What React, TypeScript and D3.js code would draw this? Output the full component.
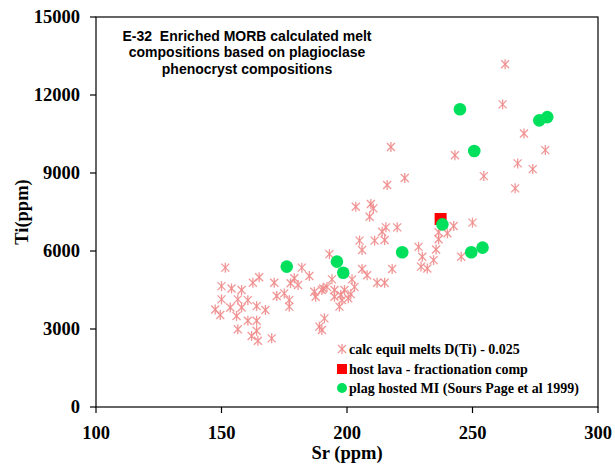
import React from "react";
import * as d3 from "d3";

// Sr (ppm), Ti (ppm) — calc equil melts D(Ti) - 0.025
const meltSr = [263, 262, 270.5, 279, 243, 268, 274, 254.5, 267, 250, 242.5, 240, 236.5, 236.5, 235.5, 234.5, 232, 245.5, 217.5, 216, 223, 203.5, 209.5, 210.5, 209, 220, 215.5, 214, 215, 211, 205, 206, 193, 228.5, 230, 229.5, 218, 206, 208, 212, 215, 194, 202, 192, 203, 195, 199, 197.5, 201.5, 187.5, 197, 191, 189, 190, 151.5, 182, 185, 179, 165, 162.5, 171, 177.5, 180.5, 150, 154, 158, 175, 172, 187, 190.5, 150, 156.5, 160.5, 177, 177, 153.5, 158, 164, 167.5, 147.5, 149.5, 156, 160.5, 164, 156.5, 164, 162, 164.5, 170, 195, 198, 200.5, 190];
const meltTi = [13180, 11640, 10520, 9880, 9680, 9370, 9150, 8880, 8410, 7090, 6960, 6680, 6720, 6450, 6060, 5650, 5330, 5780, 10000, 8540, 8810, 7700, 7810, 7640, 7320, 6910, 6910, 6740, 6420, 6400, 6400, 6040, 5880, 6160, 5780, 5400, 5310, 5310, 5070, 4780, 4780, 4910, 4910, 4620, 4620, 4500, 4500, 4310, 4340, 4240, 3860, 3410, 3090, 2960, 5360, 5360, 5040, 4950, 4990, 4780, 4780, 4760, 4690, 4650, 4560, 4500, 4370, 4270, 4430, 4560, 4140, 4140, 4110, 4110, 3860, 3830, 3830, 3880, 3730, 3750, 3540, 3500, 3320, 3320, 2990, 2930, 2730, 2550, 2640, 4240, 4110, 4180, 4500];

// host lava - fractionation comp
const hostSr = [237.3];
const hostTi = [7230];

// plag hosted MI (Sours Page et al 1999)
const miSr = [176, 196, 198.5, 222, 238, 249.5, 254, 245, 250.7, 276.6, 279.8];
const miTi = [5400, 5590, 5165, 5950, 7025, 5950, 6130, 11450, 9845, 11025, 11150];

const xTicks = [100, 150, 200, 250, 300];
const yTicks = [0, 3000, 6000, 9000, 12000, 15000];

const titleLines = [
  "E-32\u00A0 Enriched MORB calculated melt",
  "compositions based on plagioclase",
  "phenocryst compositions",
];
const legendLabels = [
  "calc equil melts D(Ti) - 0.025",
  "host lava - fractionation comp",
  "plag hosted MI (Sours Page et al 1999)",
];

const W = 615;
const H = 466;
const M = { left: 96, right: 598, top: 17, bottom: 407 };

const STAR = "#F08C8C";
const GREEN = "#00E05C";
const RED = "#FF0000";

function Star({ x, y }: { x: number; y: number }) {
  const r = 5;
  const d = 4;
  return (
    <g stroke={STAR} strokeWidth={1.3} strokeOpacity={0.9}>
      <line x1={x} y1={y - r} x2={x} y2={y + r} />
      <line x1={x - d} y1={y - d} x2={x + d} y2={y + d} />
      <line x1={x - d} y1={y + d} x2={x + d} y2={y - d} />
    </g>
  );
}

export default function App() {
  const x = d3.scaleLinear().domain([100, 300]).range([M.left, M.right]);
  const y = d3.scaleLinear().domain([0, 15000]).range([M.bottom, M.top]);
  const serif = "'Liberation Serif', 'Times New Roman', serif";
  const sans = "'Liberation Sans', Arial, sans-serif";
  const lx = 342;
  const ly = [350, 370, 389];

  return (
    <svg width={W} height={H} style={{ position: "absolute", left: 0, top: 0 }}>
      <rect x={0} y={0} width={W} height={H} fill="#fff" />
      {/* plot frame */}
      <rect
        x={M.left}
        y={M.top}
        width={M.right - M.left}
        height={M.bottom - M.top}
        fill="none"
        stroke="#000"
        strokeWidth={1.2}
      />
      {/* x ticks */}
      {xTicks.map((t) => (
        <g key={"x" + t}>
          <line x1={x(t)} x2={x(t)} y1={M.bottom} y2={M.bottom + 6} stroke="#000" strokeWidth={1.2} />
          <text
            x={x(t)}
            y={439}
            textAnchor="middle"
            fontFamily={serif}
            fontWeight="bold"
            fontSize={18.5}
          >
            {t}
          </text>
        </g>
      ))}
      {/* y ticks */}
      {yTicks.map((t) => (
        <g key={"y" + t}>
          <line x1={M.left - 6} x2={M.left} y1={y(t)} y2={y(t)} stroke="#000" strokeWidth={1.2} />
          <text
            x={80}
            y={y(t) + 6}
            textAnchor="end"
            fontFamily={serif}
            fontWeight="bold"
            fontSize={18.5}
          >
            {t}
          </text>
        </g>
      ))}
      {/* axis titles */}
      <text
        x={(M.left + M.right) / 2}
        y={459}
        textAnchor="middle"
        fontFamily={serif}
        fontWeight="bold"
        fontSize={18.5}
      >
        Sr (ppm)
      </text>
      <text
        transform={`translate(28, ${(M.top + M.bottom) / 2}) rotate(-90)`}
        textAnchor="middle"
        fontFamily={serif}
        fontWeight="bold"
        fontSize={18.5}
      >
        Ti(ppm)
      </text>
      {/* title */}
      {titleLines.map((s, i) => (
        <text
          key={i}
          x={247}
          y={40.5 + i * 16.5}
          textAnchor="middle"
          fontFamily={sans}
          fontWeight="bold"
          fontSize={14}
        >
          {s}
        </text>
      ))}
      {/* data */}
      {meltSr.map((s, i) => (
        <Star key={"m" + i} x={x(s)} y={y(meltTi[i])} />
      ))}
      {hostSr.map((s, i) => (
        <rect key={"h" + i} x={x(s) - 6} y={y(hostTi[i]) - 6} width={12} height={12} fill={RED} />
      ))}
      {miSr.map((s, i) => (
        <circle key={"g" + i} cx={x(s)} cy={y(miTi[i])} r={6.3} fill={GREEN} />
      ))}
      {/* legend */}
      <Star x={lx} y={ly[0] - 1} />
      <rect x={lx - 5} y={ly[1] - 6} width={10} height={10} fill={RED} />
      <circle cx={lx} cy={ly[2] - 1} r={5} fill={GREEN} />
      {legendLabels.map((s, i) => (
        <text
          key={"l" + i}
          x={349}
          y={ly[i] + 4}
          fontFamily={serif}
          fontWeight="bold"
          fontSize={14}
        >
          {s}
        </text>
      ))}
    </svg>
  );
}
